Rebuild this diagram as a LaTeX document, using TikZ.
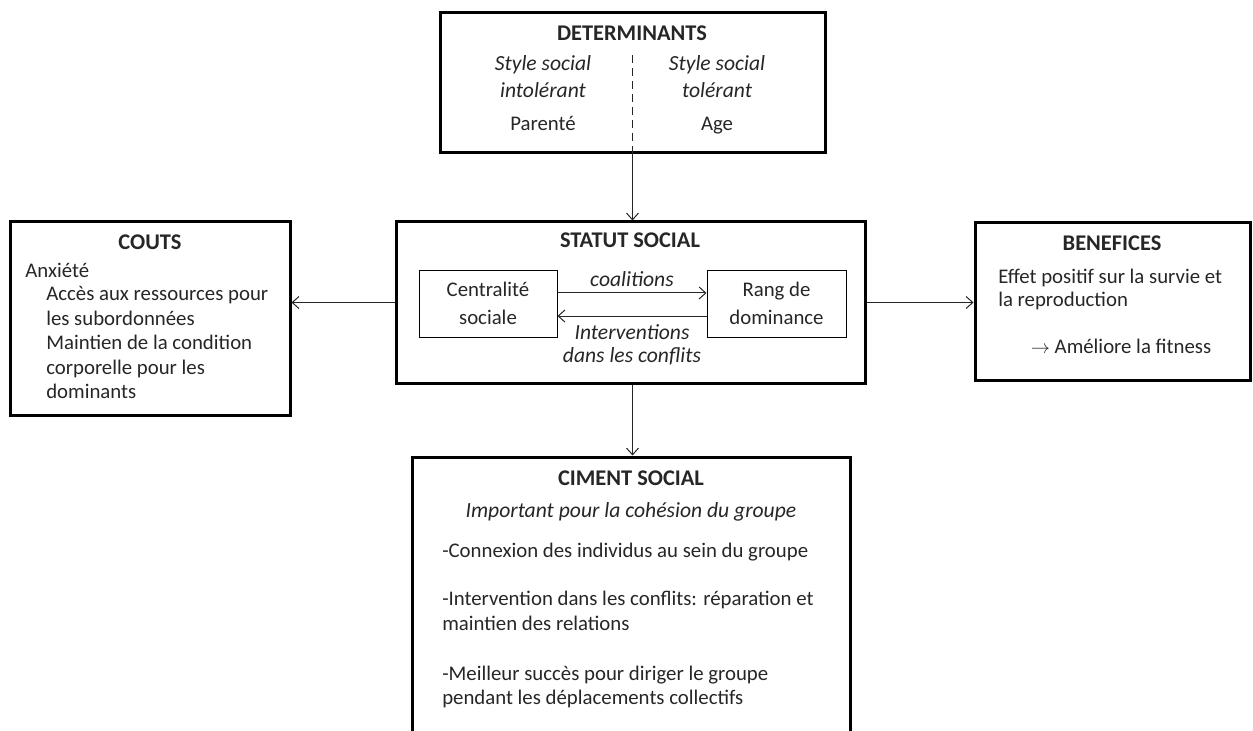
\documentclass[tikz,border=0pt]{standalone}
\usepackage{fontspec}
\setmainfont{Carlito}
\usepackage{tikz}
\usetikzlibrary{
    arrows.meta,
    calc,
    positioning
}
\tikzset{
    bigbox/.style={draw=black, line width=2.25pt, inner sep=0pt},
    smallbox/.style={draw=black, line width=0.75pt, inner sep=0pt},
    txt/.style={inner sep=0pt, text=black!85, font=\fontsize{15.6}{18.4}\selectfont},
    titre/.style={txt, font=\fontsize{16.8}{18.4}\selectfont\bfseries},
    ital/.style={txt, font=\fontsize{16.2}{18.4}\selectfont\itshape},
    arr/.style={line width=0.75pt, black!85, -{Straight Barb[length=5pt,width=9pt]}}
}

\begin{document}
\begin{tikzpicture}[x=0.75pt, y=-0.75pt]
                        \clip (0,0) rectangle (1253,731);
                        % boxes
                        \node[bigbox, minimum width=288.75pt, minimum height=105pt] (det) at (632.5, 83) {};
                        \node[bigbox, minimum width=351.75pt, minimum height=120.75pt] (statut) at (630.5, 302.5) {};
                        \node[bigbox, minimum width=210pt, minimum height=144.75pt] (couts) at (150, 318.5) {};
                        \node[bigbox, minimum width=206.25pt, minimum height=117.75pt] (benef) at (1112.5, 301.5) {};
                        \node[bigbox, minimum width=328.5pt, minimum height=227.25pt] (ciment) at (631, 608.5) {};
                        \node[smallbox, minimum width=103.5pt, minimum height=50.25pt] (centr) at (488, 303.5) {};
                        \node[smallbox, minimum width=104.25pt, minimum height=50.25pt] (rang) at (776.5, 303.5) {};
                        % determinants
                        \node[titre] (detT) at (632, 33) {DETERMINANTS};
                        \node[ital, anchor=base] (detL1) at (543, 71) {Style social};
                        \node[ital, anchor=base] (detL2) at (543, 98) {intolérant};
                        \node[txt, anchor=base] (detL3) at (543, 131) {Parenté};
                        \node[ital, anchor=base] (detR1) at (717, 71) {Style social};
                        \node[ital, anchor=base] (detR2) at (717, 98) {tolérant};
                        \node[txt, anchor=base] (detR3) at (717, 131) {Age};
                        \coordinate (sep) at (632, 55);
                        \draw[line width=0.75pt, black!85, dash pattern=on 6pt off 3.75pt] (sep) -- (sep |- det.south);
                        % statut social
                        \node[titre] (statT) at (630, 240) {STATUT SOCIAL};
                        \node[txt, align=center, font=\fontsize{15.6}{21}\selectfont] (centrT) at (centr) {Centralité\\sociale};
                        \node[txt, align=center, font=\fontsize{15.6}{21}\selectfont] (rangT) at (rang) {Rang de\\dominance};
                        \draw[arr] ([yshift=7.9pt]centr.east) -- ([yshift=7.9pt]rang.west);
                        \draw[arr] ([yshift=-9.4pt]rang.west) -- ([yshift=-9.4pt]centr.east);
                        \node[ital] (coal) at (632, 279) {coalitions};
                        \node[ital, align=center, font=\fontsize{16.2}{17.5}\selectfont\itshape] (interv) at (632, 345) {Interventions\\dans les conflits};
                        % couts
                        \node[titre] (coutsT) at (150, 242) {COUTS};
                        \node[txt, anchor=west] (anx) at (25, 270) {Anxiété};
                        \node[txt, anchor=north west, align=left] (coutsL) at (46, 286) {Accès aux ressources pour\\les subordonnées\\Maintien de la condition\\corporelle pour les\\dominants};
                        % benefices
                        \node[titre] (benefT) at (1112, 243) {BENEFICES};
                        \node[txt, anchor=north west, align=left, font=\fontsize{15.6}{16.8}\selectfont] (effet) at (998, 269) {Effet positif sur la survie et\\la reproduction};
                        \node[txt] (fit) at (1121, 346) {$\rightarrow$ Améliore la fitness};
                        % ciment social
                        \node[titre] (cimT) at (631, 478) {CIMENT SOCIAL};
                        \node[ital] (cimI) at (631, 512) {Important pour la cohésion du groupe};
                        \node[txt, anchor=west] (cim1) at (442, 552) {-Connexion des individus au sein du groupe};
                        \node[txt, anchor=north west, align=left] (cim2) at (442, 591) {-Intervention dans les conflits: réparation et\\maintien des relations};
                        \node[txt, anchor=north west, align=left, font=\fontsize{15.6}{17.5}\selectfont] (cim3) at (442, 666) {-Meilleur succès pour diriger le groupe\\pendant les déplacements collectifs};
                        % connectors
                        \draw[arr] (det.south) -- (det.south |- statut.north);
                        \draw[arr] (statut.west) -- (statut.west -| couts.east);
                        \draw[arr] (statut.east) -- (statut.east -| benef.west);
                        \draw[arr] (statut.south -| det.south) -- (det.south |- ciment.north);
\end{tikzpicture}
\end{document}
